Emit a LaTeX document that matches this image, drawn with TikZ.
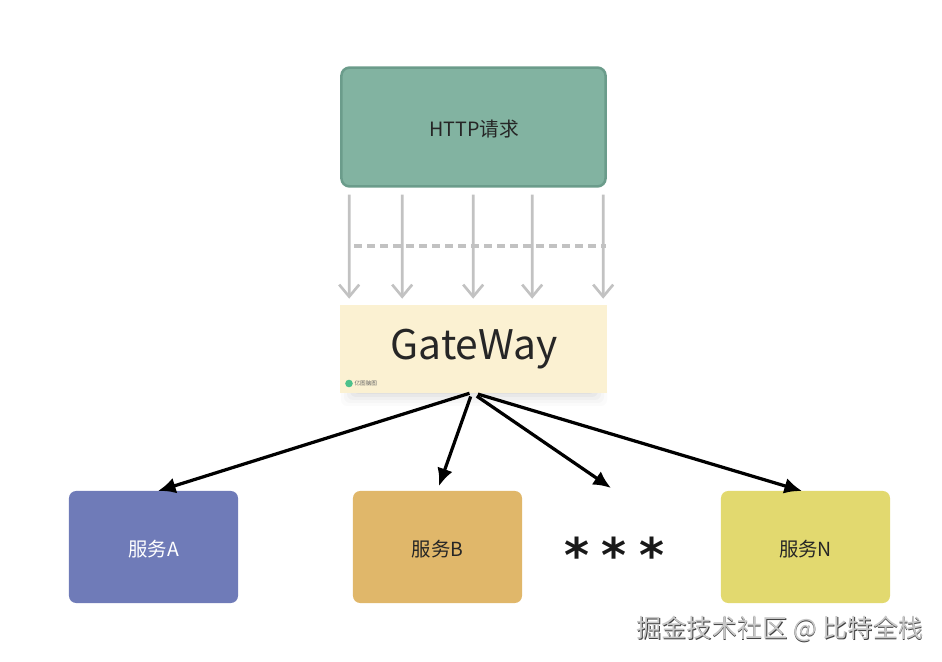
\documentclass[tikz,border=0pt]{standalone}
\usepackage{fontspec}
\setmainfont{Noto Sans CJK SC}
\newfontfamily\starfont{DejaVu Sans Bold}
\usepackage{tikz}
\usetikzlibrary{arrows.meta,positioning}
\definecolor{reqgreen}{HTML}{82B3A1}
\definecolor{reqedge}{HTML}{6B9C8B}
\definecolor{gatecream}{HTML}{FBF1D2}
\definecolor{svcblue}{HTML}{6F7BB8}
\definecolor{svcorange}{HTML}{E0B76A}
\definecolor{svcyellow}{HTML}{E2D96F}
\definecolor{inkdark}{HTML}{262626}
\definecolor{flowgray}{HTML}{C2C2C2}
\begin{document}
\begin{tikzpicture}[
    x=0.025cm, y=-0.025cm,
    svcbox/.style={rounded corners=0.18cm, minimum width=4.225cm, minimum height=2.8cm},
    svclabel/.style={inner sep=0, font=\fontsize{13.8}{16}\selectfont},
    reqarrow/.style={-{Straight Barb[length=0.3cm,width=0.5cm]}, flowgray, line width=1.9pt, shorten <=0.175cm, shorten >=0.15cm},
    callarrow/.style={-{Latex[length=0.44cm,width=0.4cm]}, black, line width=2.3pt}
]
\useasboundingbox (0,0) rectangle (942,662);
\foreach \s/\o in {14/0.015,11/0.02,8/0.025,5/0.03,2/0.035}
    \fill[black, opacity=\o, rounded corners=0.15cm] (355-\s,385) rectangle (593+\s,392+\s);
\node[draw=reqedge, line width=1.8pt, fill=reqgreen, rounded corners=0.2cm, minimum width=6.6cm, minimum height=2.97cm] (http) at (473.5,127) {};
\node[text=inkdark, inner sep=0, font=\fontsize{14}{16}\selectfont] (httptext) at (474,129) {HTTP请求};
\node[fill=gatecream, minimum width=6.65cm, minimum height=2.2cm] (gateway) at (473.5,349) {};
\node[text=inkdark, inner sep=0, font=\fontsize{29}{34}\selectfont] (gatetext) at (474,349) {GateWay};
\node[circle, fill=teal!70!green!70, minimum size=0.19cm, inner sep=0] (logo) at (349,383.5) {};
\node[right=0.03cm of logo, inner sep=0, text=black!60, font=\fontsize{4}{5}\selectfont] (logotext) {亿图脑图};
\node[svcbox, fill=svcblue] (svca) at (153.5,547) {};
\node[svclabel, text=white] (svcatext) at (153.5,549) {服务A};
\node[svcbox, fill=svcorange] (svcb) at (437.5,547) {};
\node[svclabel, text=inkdark] (svcbtext) at (437.5,549) {服务B};
\node[svcbox, fill=svcyellow] (svcn) at (805.5,547) {};
\node[svclabel, text=inkdark] (svcntext) at (805.5,549) {服务N};
\node[text=black!90, inner sep=0, font=\starfont\fontsize{34}{34}\selectfont] (stars) at (614.5,555) {*\hspace{0.31cm}*\hspace{0.31cm}*};
\node[text=black!75, inner sep=0, font=\fontsize{17.9}{20}\selectfont] (marksh) at (780.6,629.6) {掘金技术社区 @ 比特全栈};
\node[text=black!22, inner sep=0, font=\fontsize{17.9}{20}\selectfont] (mark) at (780,629) {掘金技术社区 @ 比特全栈};
\foreach \d in {8,61,132,191,262}
    \draw[reqarrow] ([xshift=\d*0.025cm+0.025cm]http.south west) -- ([xshift=\d*0.025cm+0.025cm]gateway.north west);
\coordinate (dashl) at (354,246);
\coordinate (dashr) at (606,246);
\draw[flowgray, line width=2.4pt, dash pattern=on 0.2cm off 0.125cm] (dashl) -- (dashr);
\coordinate (tipa) at (158,491);
\coordinate (tipb) at (439,486);
\coordinate (tipstars) at (611,488);
\coordinate (tipn) at (802,491);
\draw[callarrow] ([xshift=-0.1cm]gateway.south) -- (tipa);
\draw[callarrow] ([xshift=-0.07cm,yshift=-0.08cm]gateway.south) -- (tipb);
\draw[callarrow] ([xshift=0.08cm,yshift=-0.07cm]gateway.south) -- (tipstars);
\draw[callarrow] ([xshift=0.11cm,yshift=-0.02cm]gateway.south) -- (tipn);
\end{tikzpicture}
\end{document}
